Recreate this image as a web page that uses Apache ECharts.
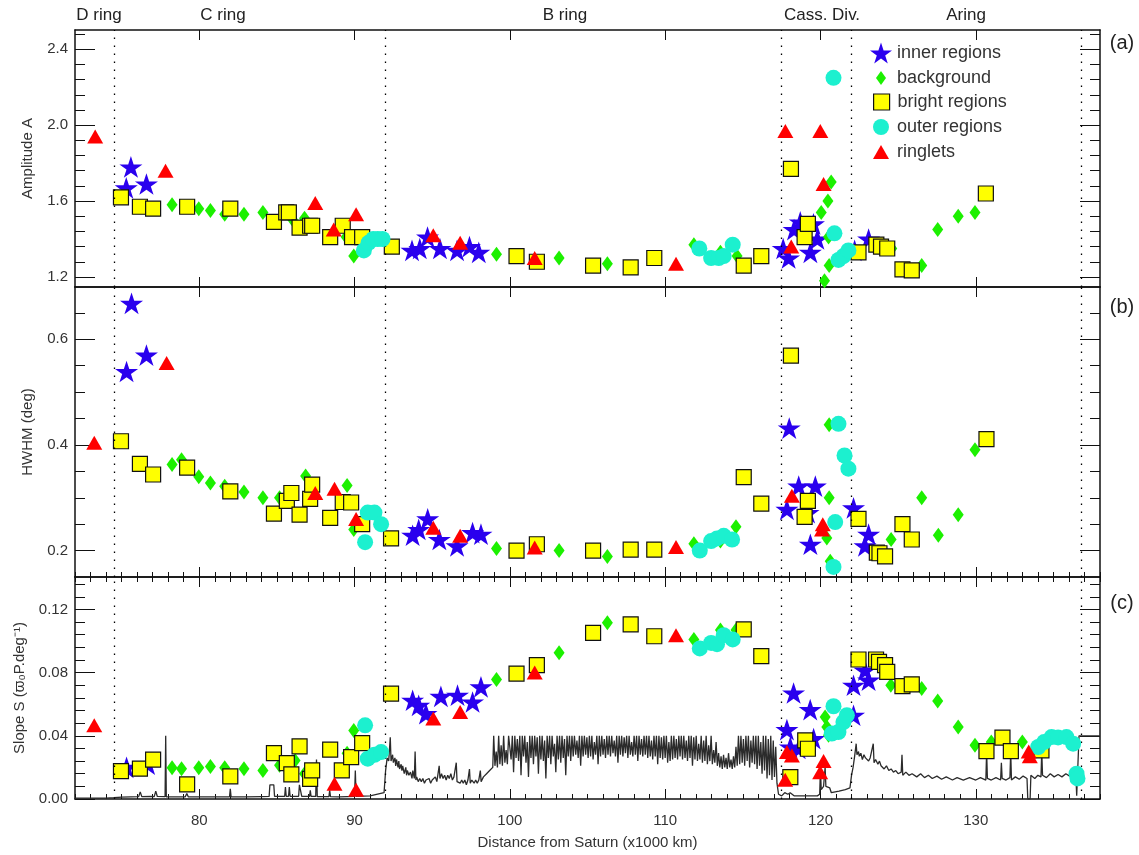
<!DOCTYPE html>
<html>
<head>
<meta charset="utf-8">
<script src="https://cdn.jsdelivr.net/npm/echarts@6.0.0/dist/echarts.min.js"></script>
<style>
  html, body { margin: 0; padding: 0; background: #fff; }
  #main { width: 1139px; height: 855px; }
</style>
</head>
<body>
<div id="main"></div>
<script>
'use strict';
var FONT = '"Liberation Sans", Arial, Helvetica, sans-serif';

// ring boundaries (x1000 km) and labels
var ringEdges = [74.5, 92.0, 117.5, 122.0, 136.8];
var ringNames = ['D ring', 'C ring', 'B ring', 'Cass. Div.', 'Aring'];
var xTicks = [80, 90, 100, 110, 120, 130];

// panel (a) Amplitude A
var innerA = [[75.6,1.78],[75.3,1.67],[76.6,1.69],[93.7,1.34],[94.2,1.35],[94.7,1.41],[95.5,1.35],[96.6,1.34],[97.4,1.36],[98.0,1.33],
  [117.6,1.35],[117.95,1.30],[118.3,1.45],[118.7,1.49],[119.35,1.33],[119.55,1.48],[119.8,1.40],[122.2,1.34],[123.1,1.40]];
var backgroundA = [[78.25,1.58],[79.97,1.56],[80.72,1.55],[81.64,1.53],[82.88,1.53],[84.1,1.54],[86.03,1.50],[86.78,1.51],[89.46,1.41],[89.95,1.31],
  [99.14,1.32],[103.17,1.30],[106.28,1.27],[111.85,1.37],[113.56,1.33],[114.63,1.31],[120.05,1.54],[120.26,1.18],[120.48,1.60],[120.52,1.41],
  [120.56,1.26],[120.69,1.70],[124.59,1.35],[126.52,1.26],[127.55,1.45],[128.87,1.52],[129.95,1.54]];
var brightA = [[74.96,1.62],[76.18,1.57],[77.03,1.56],[79.22,1.57],[82.0,1.56],[84.81,1.49],[85.6,1.54],[85.77,1.54],[86.46,1.46],[87.14,1.47],
  [87.27,1.47],[88.43,1.41],[89.24,1.47],[89.84,1.41],[90.49,1.41],[92.4,1.36],[100.43,1.31],[101.74,1.28],[105.36,1.26],[107.78,1.25],
  [109.3,1.30],[115.06,1.26],[116.19,1.31],[118.1,1.77],[118.98,1.41],[119.19,1.48],[122.45,1.33],[123.6,1.37],[123.9,1.36],[124.3,1.35],
  [125.28,1.24],[125.88,1.235],[130.65,1.64]];
var outerA = [[90.6,1.34],[90.9,1.38],[91.2,1.40],[91.5,1.40],[91.8,1.40],[112.2,1.35],[112.96,1.30],[113.45,1.30],[113.77,1.31],[114.35,1.37],
  [120.84,2.25],[120.9,1.43],[121.16,1.29],[121.48,1.31],[121.8,1.34]];
var ringletsA = [[73.3,1.94],[77.83,1.76],[87.47,1.59],[88.66,1.45],[90.1,1.53],[95.07,1.42],[96.8,1.38],[101.6,1.30],[110.7,1.27],
  [117.74,1.97],[118.12,1.36],[119.99,1.97],[120.2,1.69]];

// panel (b) HWHM
var innerB = [[75.64,0.668],[75.32,0.539],[76.6,0.570],[93.74,0.229],[94.13,0.24],[94.71,0.26],[95.46,0.221],[96.6,0.209],[97.6,0.234],[98.14,0.231],
  [117.84,0.278],[117.99,0.432],[118.6,0.322],[119.2,0.272],[119.35,0.212],[119.67,0.322],[122.13,0.281],[122.87,0.209],[123.1,0.231]];
var backgroundB = [[78.25,0.363],[78.86,0.372],[79.97,0.340],[80.72,0.328],[81.64,0.322],[82.88,0.311],[84.1,0.30],[85.17,0.30],[86.85,0.341],
  [89.52,0.323],[89.95,0.24],[99.14,0.204],[103.17,0.20],[106.28,0.189],[111.85,0.213],[113.56,0.218],[114.56,0.245],[120.41,0.224],
  [120.56,0.438],[120.56,0.30],[120.63,0.18],[124.55,0.221],[126.52,0.30],[127.59,0.229],[128.87,0.268],[129.95,0.391]];
var brightB = [[74.96,0.407],[76.18,0.364],[77.03,0.344],[79.22,0.357],[82.0,0.312],[84.81,0.27],[85.64,0.294],[85.93,0.309],[86.46,0.268],
  [87.14,0.298],[87.27,0.325],[88.43,0.262],[89.24,0.292],[89.78,0.291],[90.49,0.25],[92.35,0.223],[100.43,0.2],[101.74,0.212],[105.36,0.2],
  [107.78,0.202],[109.3,0.202],[115.06,0.339],[116.19,0.289],[118.1,0.569],[118.98,0.264],[119.19,0.294],[122.45,0.26],[123.63,0.196],
  [123.8,0.195],[124.16,0.189],[125.28,0.25],[125.88,0.221],[130.69,0.411]];
var outerB = [[90.68,0.216],[90.85,0.272],[91.28,0.272],[91.71,0.25],[112.23,0.20],[112.96,0.218],[113.34,0.223],[113.77,0.228],[114.31,0.221],
  [120.84,0.169],[120.95,0.254],[121.16,0.44],[121.55,0.38],[121.8,0.355]];
var ringletsB = [[73.24,0.404],[77.9,0.555],[87.47,0.309],[88.71,0.317],[90.1,0.26],[95.07,0.243],[96.8,0.228],[101.6,0.206],[110.7,0.207],
  [118.16,0.304],[120.1,0.24],[120.15,0.25]];

// panel (c) Slope S
var innerC = [[75.32,0.02],[76.7,0.022],[93.74,0.0625],[94.13,0.0593],[94.6,0.054],[95.56,0.065],[96.63,0.0657],[97.6,0.0614],[98.14,0.071],
  [117.84,0.0439],[118.06,0.0329],[118.27,0.0671],[118.6,0.032],[119.34,0.0566],[119.56,0.0382],[122.13,0.053],[122.13,0.072],[122.87,0.0815],[123.1,0.0752]];
var backgroundC = [[78.25,0.0198],[78.86,0.0192],[79.97,0.0198],[80.72,0.0206],[81.64,0.0198],[82.88,0.0192],[84.1,0.0181],[85.17,0.0213],
  [86.17,0.0244],[86.78,0.016],[89.52,0.029],[89.95,0.0434],[99.14,0.0756],[103.17,0.0925],[106.28,0.1115],[111.85,0.101],[113.56,0.1069],
  [114.56,0.1069],[120.3,0.0519],[120.41,0.0455],[120.52,0.0403],[124.53,0.072],[126.52,0.0699],[127.55,0.062],[128.87,0.0455],[129.95,0.034],
  [131.0,0.036],[133.0,0.036]];
var brightC = [[74.96,0.0176],[76.18,0.0192],[77.03,0.0249],[79.22,0.0092],[82.0,0.0143],[84.81,0.029],[85.64,0.0227],[85.93,0.0156],[86.46,0.0333],
  [87.14,0.0128],[87.27,0.0181],[88.43,0.0312],[89.18,0.0181],[89.78,0.0265],[90.49,0.0354],[92.35,0.0667],[100.43,0.0794],[101.74,0.0847],
  [105.36,0.1052],[107.78,0.1105],[109.3,0.103],[115.06,0.1073],[116.19,0.0904],[118.06,0.0138],[119.02,0.0371],[119.19,0.0318],[122.45,0.0883],
  [123.58,0.0883],[123.77,0.0868],[124.16,0.0847],[124.3,0.0804],[125.28,0.0714],[125.88,0.0726],[130.69,0.0303],[131.72,0.0388],[132.26,0.0303],[134.23,0.0308]];
var outerC = [[90.68,0.0466],[90.85,0.0255],[91.28,0.028],[91.71,0.0297],[112.23,0.0953],[112.96,0.0988],[113.34,0.098],[113.77,0.1037],[114.35,0.101],
  [120.73,0.0414],[121.16,0.0424],[121.48,0.0487],[121.7,0.053],[120.84,0.0587],[134.02,0.0329],[134.4,0.036],[134.88,0.0392],[135.3,0.039],
  [135.84,0.0392],[136.27,0.035],[136.49,0.016],[136.55,0.013]];
var ringletsC = [[73.24,0.0466],[88.71,0.0097],[90.1,0.0059],[95.07,0.0509],[96.8,0.055],[101.6,0.08],[110.7,0.1037],[117.73,0.0122],
  [117.84,0.0297],[118.16,0.0276],[119.98,0.017],[120.2,0.024],[133.41,0.03],[133.48,0.027]];

// radial profile drawn in panel (c), clipped at 0.04
var profileCD = [
  [72,0.0005],[73,0.0005],[74,0.0006],[74.5,0.0008],[75,0.0012],[75.6,0.0014],[76.1,0.0015],[76.2,0.0045],[76.3,0.0015],[76.9,0.0016],
  [77.1,0.0015],[77.2,0.005],[77.3,0.0016],[77.8,0.0015],[77.84,0.04],[77.88,0.0014],[78.5,0.0013],[79.1,0.0014],[79.2,0.0035],[79.3,0.0013],
  [80.5,0.0014],[81.5,0.0013],[81.95,0.0014],[82.0,0.0065],[82.05,0.0014],[83.0,0.0013],[84.0,0.0015],[84.5,0.0016],[84.55,0.009],[84.8,0.009],
  [84.85,0.0016],[85.5,0.0016],[85.55,0.0075],[85.6,0.0017],[85.75,0.0017],[85.8,0.0075],[85.85,0.0017],[86.4,0.0017],[86.45,0.009],[86.55,0.0085],
  [86.6,0.0017],[87.1,0.0017],[87.15,0.0055],[87.2,0.0017],[87.5,0.0016],[87.55,0.025],[87.6,0.0015],[88.35,0.0015],[88.4,0.0055],[88.45,0.0015],
  [89.0,0.0014],[90.0,0.0016],[90.05,0.018],[90.1,0.0017],[91.0,0.002],[91.9,0.004]
];
var profileBInner = [
  [92.0,0.018],[92.1,0.026],[92.2,0.024],[92.3,0.039],[92.35,0.024],[92.45,0.028],[92.5,0.023],[92.6,0.026],[92.65,0.021],[92.7,0.025],
  [92.8,0.02],[92.85,0.024],[92.9,0.019],[93.0,0.022],[93.05,0.018],[93.1,0.021],[93.2,0.016],[93.3,0.02],[93.35,0.015],[93.4,0.018],
  [93.5,0.015],[93.6,0.017],[93.7,0.013],[93.75,0.018],[93.85,0.013],[93.9,0.03],[93.95,0.012],[94.0,0.014],[94.1,0.011],[94.2,0.013],
  [94.3,0.011],[94.4,0.013],[94.5,0.010],[94.6,0.012],[94.7,0.011],[94.8,0.013],[94.9,0.010],[95.0,0.012],[95.1,0.011],[95.2,0.014],
  [95.3,0.011],[95.45,0.021],[95.5,0.013],[95.6,0.016],[95.7,0.013],[95.8,0.015],[95.9,0.012],[96.0,0.015],[96.1,0.013],[96.2,0.016],
  [96.3,0.012],[96.4,0.014],[96.55,0.023],[96.6,0.011],[96.7,0.012],[96.8,0.010],[96.9,0.012],[97.0,0.010],[97.1,0.012],[97.2,0.009],
  [97.3,0.012],[97.4,0.019],[97.45,0.010],[97.55,0.012],[97.7,0.010],[97.8,0.012],[97.9,0.010],[98.0,0.012],[98.1,0.018],[98.15,0.011],
  [98.3,0.014],[98.4,0.013],[98.5,0.016],[98.6,0.015],[98.7,0.018],[98.8,0.017]
];
var profileBDense = [
  [98.90,0.020],[98.96,0.040],[99.04,0.021],[99.12,0.030],[99.20,0.020],[99.28,0.040],[99.36,0.022],[99.44,0.034],[99.52,0.021],[99.60,0.040],
  [99.68,0.023],[99.76,0.031],[99.84,0.022],[99.92,0.040],
  [100.00,0.040],[100.08,0.025],[100.16,0.040],[100.24,0.017],[100.32,0.040],[100.40,0.026],[100.48,0.038],[100.56,0.024],[100.64,0.040],[100.72,0.015],
  [100.80,0.040],[100.88,0.027],[100.96,0.040],[101.04,0.023],[101.12,0.036],[101.20,0.014],[101.28,0.040],[101.36,0.026],[101.44,0.040],[101.52,0.022],
  [101.60,0.040],[101.68,0.027],[101.76,0.039],[101.84,0.016],[101.92,0.040],[102.00,0.025],[102.08,0.040],[102.16,0.024],[102.24,0.037],[102.32,0.013],
  [102.40,0.040],[102.48,0.026],[102.56,0.040],[102.64,0.022],[102.72,0.040],[102.80,0.027],[102.88,0.035],[102.96,0.017],[103.04,0.040],[103.12,0.025],
  [103.20,0.040],[103.28,0.023],[103.36,0.040],[103.44,0.026],[103.52,0.038],[103.60,0.015],[103.68,0.040],[103.76,0.027],[103.84,0.040],[103.92,0.024],
  [104.00,0.040],[104.08,0.027],[104.16,0.040],[104.24,0.028],[104.32,0.037],[104.40,0.026],[104.48,0.040],[104.56,0.021],[104.64,0.040],[104.72,0.027],
  [104.80,0.040],[104.88,0.028],[104.96,0.039],[105.04,0.026],[105.12,0.040],[105.20,0.027],[105.28,0.040],[105.36,0.025],[105.44,0.036],[105.52,0.028],
  [105.60,0.040],[105.68,0.022],[105.76,0.040],[105.84,0.027],[105.92,0.040],[106.00,0.028],[106.08,0.038],[106.16,0.026],[106.24,0.040],[106.32,0.028],
  [106.40,0.040],[106.48,0.027],[106.56,0.040],[106.64,0.029],[106.72,0.037],[106.80,0.027],[106.88,0.040],[106.96,0.023],[107.04,0.040],[107.12,0.028],
  [107.20,0.040],[107.28,0.027],[107.36,0.039],[107.44,0.029],[107.52,0.040],[107.60,0.026],[107.68,0.040],[107.76,0.028],[107.84,0.036],[107.92,0.027],
  [108.00,0.040],[108.08,0.028],[108.16,0.040],[108.24,0.024],[108.32,0.040],[108.40,0.028],[108.48,0.038],[108.56,0.027],[108.64,0.040],[108.72,0.028],
  [108.80,0.040],[108.88,0.026],[108.96,0.040],[109.04,0.027],[109.12,0.037],[109.20,0.025],[109.28,0.040],[109.36,0.027],[109.44,0.040],[109.52,0.022],
  [109.60,0.040],[109.68,0.026],[109.76,0.039],[109.84,0.025],[109.92,0.040],[110.00,0.026],[110.08,0.040],[110.16,0.023],[110.24,0.036],[110.32,0.024],
  [110.40,0.040],[110.48,0.025],[110.56,0.040],[110.64,0.026],[110.72,0.038],[110.80,0.025],[110.88,0.040],[110.96,0.027],[111.04,0.040],[111.12,0.025],
  [111.20,0.040],[111.28,0.026],[111.36,0.037],[111.44,0.024],[111.52,0.040],[111.60,0.026],[111.68,0.040],[111.76,0.021],[111.84,0.039],[111.92,0.025],
  [112.00,0.040],[112.08,0.024],[112.16,0.035],[112.24,0.025],[112.32,0.040],[112.40,0.023],[112.48,0.037],[112.56,0.024],[112.64,0.040],[112.72,0.022],
  [112.80,0.034],[112.88,0.024],[112.96,0.040],[113.04,0.022],[113.12,0.031],[113.20,0.023],[113.28,0.036],[113.36,0.021],[113.44,0.029],[113.52,0.020],
  [113.60,0.027],[113.68,0.019],[113.76,0.028],[113.84,0.020],[113.92,0.026],[114.00,0.019],[114.08,0.029],[114.16,0.020],[114.24,0.025],[114.32,0.019],
  [114.40,0.027],[114.48,0.020],[114.56,0.033],[114.64,0.021],[114.72,0.040],[114.80,0.022],[114.88,0.040],[114.96,0.023],[115.04,0.038],[115.12,0.021],
  [115.20,0.040],[115.28,0.024],[115.36,0.040],[115.44,0.020],[115.52,0.037],[115.60,0.023],[115.68,0.040],[115.76,0.022],[115.84,0.040],[115.92,0.019],
  [116.00,0.040],[116.08,0.021],[116.16,0.036],[116.24,0.016],[116.32,0.040],[116.40,0.018],[116.48,0.040],[116.56,0.013],[116.64,0.038],[116.72,0.015],
  [116.80,0.040],[116.88,0.012],[116.96,0.037],[117.04,0.014],[117.12,0.033],[117.20,0.010],[117.30,0.003]
];
var profileCassA = [
  [117.5,0.002],[117.7,0.004],[117.9,0.003],[118.05,0.004],[118.3,0.002],[118.8,0.002],[119.3,0.002],[119.8,0.002],[119.95,0.003],[120.0,0.019],
  [120.05,0.006],[120.2,0.008],[120.3,0.02],[120.35,0.008],[120.6,0.007],[120.7,0.004],[121.2,0.005],[121.6,0.006],[121.9,0.007],[122.0,0.015],
  [122.1,0.02],[122.2,0.027],[122.3,0.035],[122.35,0.028],[122.45,0.030],[122.5,0.027],[122.6,0.029],[122.7,0.025],[122.8,0.028],[122.9,0.026],
  [123.0,0.027],[123.1,0.024],[123.2,0.026],[123.3,0.025],[123.4,0.035],[123.45,0.023],[123.55,0.025],[123.7,0.022],[123.8,0.024],[123.9,0.021],
  [124.0,0.022],[124.1,0.019],[124.25,0.021],[124.4,0.018],[124.55,0.019],[124.7,0.017],[124.85,0.018],[125.0,0.016],[125.2,0.017],[125.25,0.028],
  [125.3,0.015],[125.5,0.017],[125.7,0.015],[125.9,0.016],[126.2,0.014],[126.45,0.016],[126.7,0.0135],[126.95,0.015],[127.2,0.013],[127.5,0.0145],
  [127.8,0.0125],[128.1,0.014],[128.5,0.012],[128.8,0.0135],[129.2,0.012],[129.6,0.0135],[130.0,0.012],[130.3,0.0135],[130.65,0.012],[130.7,0.03],
  [130.75,0.013],[131.0,0.012],[131.3,0.0135],[131.6,0.012],[131.65,0.023],[131.7,0.013],[131.95,0.012],[132.2,0.0135],[132.25,0.03],[132.3,0.012],
  [132.55,0.014],[132.8,0.0125],[133.05,0.0145],[133.3,0.013],[133.35,0.0],[133.5,0.0],[133.55,0.015],[133.8,0.013],[134.0,0.015],[134.2,0.014],
  [134.25,0.03],[134.3,0.015],[134.55,0.0135],[134.8,0.016],[135.05,0.014],[135.3,0.0155],[135.55,0.014],[135.8,0.016],[136.05,0.0145],[136.3,0.016],
  [136.45,0.014],[136.5,0.002],[136.6,0.002],[136.65,0.04],[138,0.04]
];
var profile = profileCD.concat(profileBInner, profileBDense, profileCassA);

var STAR = 'path://M50,2 L61.2,36.3 L97.6,36.3 L68.2,57.6 L79.4,91.8 L50,70.6 L20.6,91.8 L31.8,57.6 L2.4,36.3 L38.8,36.3 Z';

var groups = [
  {name: 'inner regions', data: [innerA, innerB, innerC], symbol: STAR, size: 23, color: '#2a00ee',
   icon: STAR, iconH: 22, legendLeft: 870},
  {name: 'background', data: [backgroundA, backgroundB, backgroundC], symbol: 'diamond', size: [11, 15], color: '#1cf000',
   icon: 'path://M5,0 L10,7 L5,14 L0,7 Z', iconH: 14, legendLeft: 876},
  {name: 'bright regions', data: [brightA, brightB, brightC], symbol: 'rect', size: 15, color: '#ffff00', border: true,
   icon: 'path://M0,0 L10,0 L10,10 L0,10 Z', iconH: 16, legendLeft: 873},
  {name: 'outer regions', data: [outerA, outerB, outerC], symbol: 'circle', size: 16, color: '#1cf0cf',
   icon: 'circle', iconH: 16, legendLeft: 873},
  {name: 'ringlets', data: [ringletsA, ringletsB, ringletsC], symbol: 'triangle', size: [16, 14], color: '#ff0000',
   icon: 'path://M8,0 L16,14 L0,14 Z', iconH: 14, legendLeft: 873}
];
var legendRowY = [53, 78, 102, 127, 152];

var panels = [
  {min: 1.147, max: 2.502, major: [1.2, 1.6, 2.0, 2.4],
   minor: [1.28, 1.36, 1.44, 1.52, 1.68, 1.76, 1.84, 1.92, 2.08, 2.16, 2.24, 2.32, 2.48],
   digits: 1, name: 'Amplitude A', gap: 40, grid: {top: 30, height: 257}},
  {min: 0.15, max: 0.699, major: [0.2, 0.4, 0.6], minor: [0.25, 0.3, 0.35, 0.45, 0.5, 0.55, 0.65],
   digits: 1, name: 'HWHM (deg)', gap: 40, grid: {top: 287, height: 290}},
  {min: 0, max: 0.1405, major: [0, 0.04, 0.08, 0.12],
   minor: [0.008, 0.016, 0.024, 0.032, 0.048, 0.056, 0.064, 0.072, 0.088, 0.096, 0.104, 0.112, 0.128, 0.136],
   digits: 2, name: 'Slope S (ϖ₀P.deg⁻¹)', gap: 48, grid: {top: 577, height: 222}}
];

var axisColor = '#111';
var labelStyle = {fontFamily: FONT, fontSize: 15, color: '#333'};

var xAxes = [], yAxes = [], grids = [], series = [];

panels.forEach(function (p, g) {
  grids.push({left: 75, right: 39, top: p.grid.top, height: p.grid.height});
  var last = g === panels.length - 1;
  var xb = {gridIndex: g, type: 'value', min: 72, max: 138, splitLine: {show: false}};
  // bottom: minor ticks every 1, then major
  xAxes.push(Object.assign({}, xb, {position: 'bottom', interval: 1,
    axisLine: {show: true, onZero: false, lineStyle: {color: axisColor, width: 1.5}},
    axisTick: {show: g > 0, inside: true, length: 5, lineStyle: {color: axisColor}},
    axisLabel: {show: false}}));
  xAxes.push(Object.assign({}, xb, {position: 'bottom',
    axisLine: {show: false, onZero: false},
    axisTick: {show: true, inside: true, length: 10, customValues: xTicks, lineStyle: {color: axisColor}},
    axisLabel: Object.assign({show: last, customValues: xTicks, margin: 14}, labelStyle),
    name: last ? 'Distance from Saturn (x1000 km)' : '', nameLocation: 'middle', nameGap: 36,
    nameTextStyle: labelStyle}));
  // top
  xAxes.push(Object.assign({}, xb, {position: 'top', interval: 1,
    axisLine: {show: true, onZero: false, lineStyle: {color: axisColor, width: 1.5}},
    axisTick: {show: last, inside: true, length: 5, lineStyle: {color: axisColor}},
    axisLabel: {show: false}}));
  xAxes.push(Object.assign({}, xb, {position: 'top',
    axisLine: {show: false, onZero: false},
    axisTick: {show: true, inside: true, length: 10, customValues: xTicks, lineStyle: {color: axisColor}},
    axisLabel: {show: false}}));

  var yb = {gridIndex: g, type: 'value', min: p.min, max: p.max, splitLine: {show: false}};
  yAxes.push(Object.assign({}, yb, {position: 'left',
    axisLine: {show: true, onZero: false, lineStyle: {color: axisColor, width: 1.5}},
    axisTick: {show: true, inside: true, length: 20, customValues: p.major, lineStyle: {color: axisColor}},
    axisLabel: Object.assign({customValues: p.major, margin: 7, formatter: function (v) { return v.toFixed(p.digits); }}, labelStyle),
    name: p.name, nameLocation: 'middle', nameRotate: 90, nameGap: p.gap, nameTextStyle: labelStyle}));
  yAxes.push(Object.assign({}, yb, {position: 'left',
    axisLine: {show: false, onZero: false},
    axisTick: {show: true, inside: true, length: 10, customValues: p.minor, lineStyle: {color: axisColor}},
    axisLabel: {show: false}}));
  yAxes.push(Object.assign({}, yb, {position: 'right',
    axisLine: {show: true, onZero: false, lineStyle: {color: axisColor, width: 1.5}},
    axisTick: {show: true, inside: true, length: 20, customValues: p.major, lineStyle: {color: axisColor}},
    axisLabel: {show: false}}));
  yAxes.push(Object.assign({}, yb, {position: 'right',
    axisLine: {show: false, onZero: false},
    axisTick: {show: true, inside: true, length: 10, customValues: p.minor, lineStyle: {color: axisColor}},
    axisLabel: {show: false}}));

  if (last) {
    series.push({
      name: 'profile', type: 'line', data: profile, xAxisIndex: g * 4, yAxisIndex: g * 4,
      showSymbol: false, symbol: 'none', clip: true, z: 1,
      lineStyle: {color: '#2b2b2b', width: 1.3}
    });
  }

  groups.forEach(function (s, k) {
    var item = {
      name: s.name, type: 'scatter', data: s.data[g], xAxisIndex: g * 4, yAxisIndex: g * 4,
      symbol: s.symbol, symbolSize: s.size, symbolKeepAspect: true, z: 2 + k,
      itemStyle: {color: s.color, opacity: 1, borderColor: s.border ? '#111' : s.color, borderWidth: s.border ? 1.2 : 0}
    };
    if (k === 0) {
      item.markLine = {
        silent: true, symbol: ['none', 'none'], label: {show: false},
        lineStyle: {color: '#000', type: [1.5, 6.5], width: 1.3},
        data: ringEdges.map(function (v) { return {xAxis: v}; })
      };
    }
    series.push(item);
  });
});

// one legend per row so every icon can have its own size
var legends = groups.map(function (s, k) {
  return {
    data: [{name: s.name, icon: s.icon, itemStyle: {color: s.color,
      borderColor: s.border ? '#111' : s.color, borderWidth: s.border ? 1.2 : 0}}],
    left: s.legendLeft, top: legendRowY[k] - 11, padding: 0,
    itemWidth: 22, itemHeight: s.iconH, symbolKeepAspect: true, selectedMode: false,
    textStyle: {fontFamily: FONT, fontSize: 18, color: '#333', lineHeight: 22}
  };
});

var graphics = [];
var ringLabelPos = [99, 223, 565, 822, 966];
ringNames.forEach(function (t, i) {
  graphics.push({type: 'text', x: ringLabelPos[i], y: 15,
    style: {text: t, font: '17px ' + FONT, fill: '#222', align: 'center', verticalAlign: 'middle'}});
});
[['(a)', 43], ['(b)', 307], ['(c)', 603]].forEach(function (d) {
  graphics.push({type: 'text', x: 1122, y: d[1],
    style: {text: d[0], font: '20px ' + FONT, fill: '#222', align: 'center', verticalAlign: 'middle'}});
});

var chart = echarts.init(document.getElementById('main'), null, {renderer: 'canvas'});
chart.setOption({
  animation: false,
  backgroundColor: '#fff',
  grid: grids,
  xAxis: xAxes,
  yAxis: yAxes,
  legend: legends,
  graphic: graphics,
  series: series
});
</script>
</body>
</html>
